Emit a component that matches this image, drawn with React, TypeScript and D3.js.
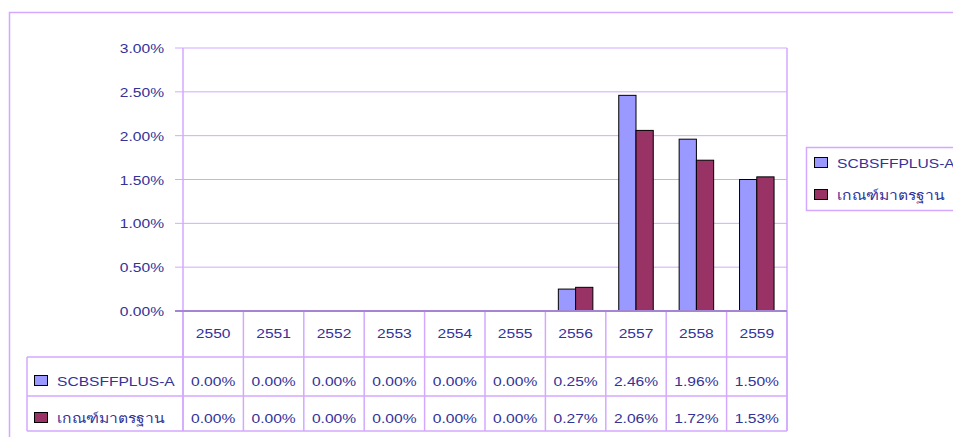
import React from 'react';
import * as d3 from 'd3';

const years = ['2550', '2551', '2552', '2553', '2554', '2555', '2556', '2557', '2558', '2559'];
const seriesNames = ['SCBSFFPLUS-A', 'เกณฑ์มาตรฐาน'];
const fundValues = [0, 0, 0, 0, 0, 0, 0.25, 2.46, 1.96, 1.50];
const benchValues = [0, 0, 0, 0, 0, 0, 0.27, 2.06, 1.72, 1.53];
const yTicks = [0, 0.5, 1, 1.5, 2, 2.5, 3];

const COLORS = ['#9999ff', '#993366'];
const GRID = '#d3a9ff';
const TEXT = '#333399';
const FONT = '"Liberation Sans", Arial, sans-serif';
const SX = 1.2; // text in the picture is stretched sideways

const W = 953;
const H = 437;

function Label({ x, y, anchor = 'start', children }: { x: number; y: number; anchor?: string; children: React.ReactNode }) {
  return (
    <text
      transform={`translate(${x},${y}) scale(${SX},1)`}
      textAnchor={anchor}
      fontFamily={FONT}
      fontSize={13}
      fill={TEXT}
    >
      {children}
    </text>
  );
}

export default function App() {
  const plot = { left: 183, right: 787, top: 48, bottom: 311 };
  const rows = [357, 396, 431];
  const tableLeft = 27;

  const x = d3.scaleBand<string>().domain(years).range([plot.left, plot.right]);
  const y = d3.scaleLinear().domain([0, 3]).range([plot.bottom, plot.top]);
  const barW = x.bandwidth() / 3.5;
  const series = [fundValues, benchValues];

  const colEdges = years.map(yr => x(yr)!).concat([plot.right]);

  return (
    <svg width={W} height={H} style={{ position: 'absolute', left: 0, top: 0, background: '#fff' }}>
      {/* outer chart frame */}
      <rect x={9.5} y={12.5} width={W + 20} height={H + 20} fill="none" stroke={GRID} strokeWidth={1.5} />

      {/* gridlines and ticks */}
      {yTicks.map(t => (
        <g key={t}>
          {t > 0 && <line x1={plot.left} x2={plot.right} y1={y(t)} y2={y(t)} stroke={GRID} />}
          <line x1={plot.left - 8} x2={plot.left} y1={y(t)} y2={y(t)} stroke={GRID} />
          <Label x={164} y={y(t) + 5} anchor="end">{t.toFixed(2) + '%'}</Label>
        </g>
      ))}

      {/* bars */}
      {years.map((yr, i) =>
        series.map((vals, s) => {
          const v = vals[i];
          if (v <= 0) return null;
          const bx = x(yr)! + x.bandwidth() / 2 - barW + s * barW;
          return (
            <rect
              key={yr + s}
              x={bx}
              y={y(v)}
              width={barW}
              height={plot.bottom - y(v)}
              fill={COLORS[s]}
              stroke="#000"
              strokeWidth={1}
            />
          );
        })
      )}

      {/* plot borders */}
      <line x1={plot.left} x2={plot.left} y1={plot.top} y2={rows[2]} stroke={GRID} strokeWidth={1.5} />
      <line x1={plot.right} x2={plot.right} y1={plot.top} y2={rows[2]} stroke={GRID} strokeWidth={1.5} />

      {/* data table */}
      {colEdges.map((cx, i) => (
        <line key={i} x1={cx} x2={cx} y1={plot.bottom} y2={rows[2]} stroke={GRID} strokeWidth={1.5} />
      ))}
      <line x1={tableLeft} x2={tableLeft} y1={rows[0]} y2={rows[2]} stroke={GRID} strokeWidth={1.5} />
      {rows.map(ry => (
        <line key={ry} x1={tableLeft} x2={plot.right} y1={ry} y2={ry} stroke={GRID} strokeWidth={1.5} />
      ))}
      <line x1={plot.left - 8} x2={plot.right} y1={plot.bottom} y2={plot.bottom} stroke="#a286d4" strokeWidth={2} />

      {years.map(yr => (
        <Label key={yr} x={x(yr)! + x.bandwidth() / 2} y={338} anchor="middle">{yr}</Label>
      ))}
      {series.map((vals, s) => {
        const ty = s === 0 ? 386 : 423;
        return (
          <g key={s}>
            <rect x={34.5} y={ty - 10.5} width={13} height={10} fill={COLORS[s]} stroke="#000" />
            <Label x={57} y={ty}>{seriesNames[s]}</Label>
            {vals.map((v, i) => (
              <Label key={i} x={x(years[i])! + x.bandwidth() / 2} y={ty} anchor="middle">{v.toFixed(2) + '%'}</Label>
            ))}
          </g>
        );
      })}

      {/* legend */}
      <rect x={806.5} y={147.5} width={200} height={63} fill="#fff" stroke={GRID} strokeWidth={1.5} />
      {seriesNames.map((name, s) => {
        const ly = s === 0 ? 168 : 200;
        return (
          <g key={name}>
            <rect x={814.5} y={ly - 10.5} width={13} height={10} fill={COLORS[s]} stroke="#000" />
            <Label x={837} y={ly}>{name}</Label>
          </g>
        );
      })}
    </svg>
  );
}
